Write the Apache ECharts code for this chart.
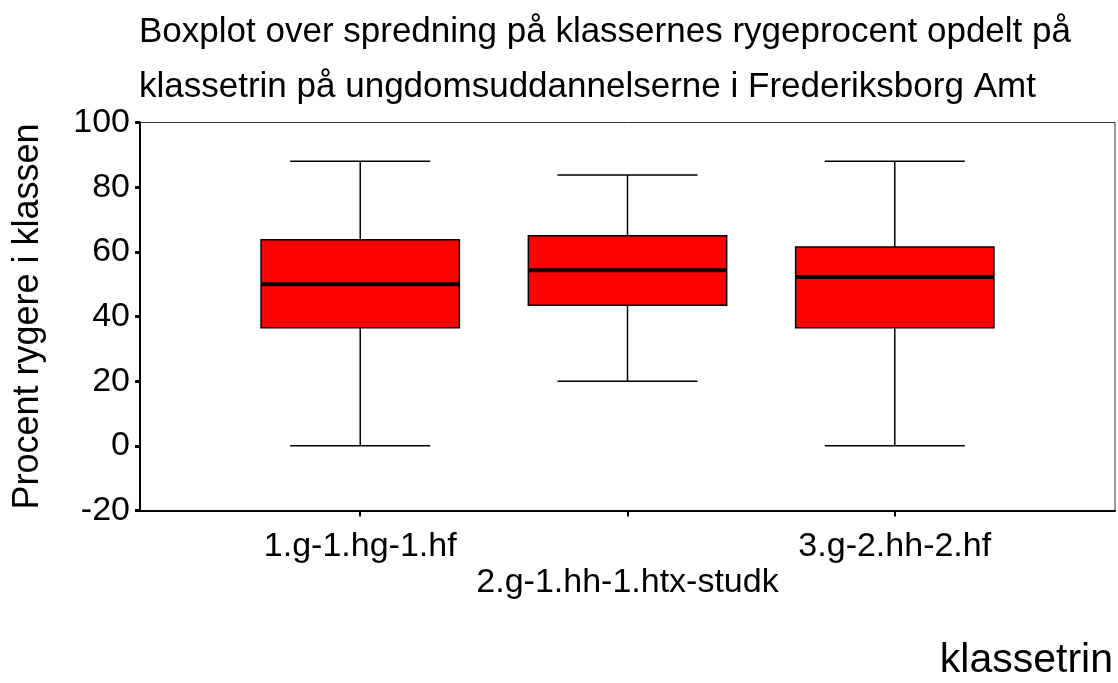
<!DOCTYPE html>
<html>
<head>
<meta charset="utf-8">
<script src="https://cdn.jsdelivr.net/npm/echarts@6/dist/echarts.min.js"></script>
<style>html,body{margin:0;padding:0;background:#fff;}#c{width:1118px;height:683px;}</style>
</head>
<body>
<div id="c"></div>
<script>
var categories = ['1.g-1.hg-1.hf', '2.g-1.hh-1.htx-studk', '3.g-2.hh-2.hf'];
var positions = [1, 2, 3];
var lowerWhisker = [0, 20, 0];
var q1 = [36.5, 43.5, 36.5];
var median = [50, 54.3, 52.2];
var q3 = [63.7, 65, 61.5];
var upperWhisker = [88, 83.8, 88];

var FONT = '"Liberation Sans", Arial, sans-serif';
var boxHalf = 0.371, capHalf = 0.262;

var data = positions.map(function (p, i) {
  return [p, lowerWhisker[i], q1[i], median[i], q3[i], upperWhisker[i]];
});

var chart = echarts.init(document.getElementById('c'));
chart.setOption({
  animation: false,
  backgroundColor: '#fff',
  title: {
    text: 'Boxplot over spredning på klassernes rygeprocent opdelt på\nklassetrin på ungdomsuddannelserne i Frederiksborg Amt',
    left: 134, top: 0,
    textStyle: { fontFamily: FONT, fontSize: 35, fontWeight: 'normal', color: '#000', lineHeight: 55 }
  },
  grid: { left: 140, right: 3, top: 122.5, bottom: 172.5, show: true, borderColor: '#333', borderWidth: 1 },
  xAxis: {
    type: 'value', min: 1 - 0.824, max: 3 + 0.824,
    splitLine: { show: false },
    axisLine: { show: true, onZero: false, lineStyle: { color: '#000', width: 2 } },
    axisTick: { show: true, customValues: positions, length: 6, lineStyle: { color: '#000', width: 2 } },
    axisLabel: {
      customValues: positions,
      fontFamily: FONT, fontSize: 34, color: '#000', margin: 18, lineHeight: 36,
      formatter: function (v) {
        var i = positions.indexOf(Math.round(v));
        if (i < 0) return '';
        return i === 1 ? '\n' + categories[i] : categories[i];
      }
    }
  },
  yAxis: {
    type: 'value', min: -20, max: 100, interval: 20,
    name: 'Procent rygere i klassen', nameLocation: 'middle', nameGap: 94,
    nameTextStyle: { fontFamily: FONT, fontSize: 36, color: '#000' },
    splitLine: { show: false },
    axisLine: { show: true, lineStyle: { color: '#000', width: 2 } },
    axisTick: { show: true, length: 5, lineStyle: { color: '#000', width: 3 } },
    axisLabel: { fontFamily: FONT, fontSize: 34, color: '#000', margin: 10 }
  },
  graphic: [{
    type: 'text', right: 5, top: 640,
    style: { text: 'klassetrin', fontFamily: FONT, fontSize: 41, fill: '#000' }
  }],
  series: [{
    type: 'custom',
    data: data,
    encode: { x: 0, y: [1, 2, 3, 4, 5] },
    renderItem: function (params, api) {
      var x = api.value(0);
      var lo = api.coord([x, api.value(1)]);
      var b1 = api.coord([x, api.value(2)]);
      var md = api.coord([x, api.value(3)]);
      var b3 = api.coord([x, api.value(4)]);
      var hi = api.coord([x, api.value(5)]);
      var bl = api.coord([x - boxHalf, 0])[0];
      var br = api.coord([x + boxHalf, 0])[0];
      var cl = api.coord([x - capHalf, 0])[0];
      var cr = api.coord([x + capHalf, 0])[0];
      var ls = { stroke: '#000', lineWidth: 1.5 };
      return {
        type: 'group',
        children: [
          { type: 'line', shape: { x1: lo[0], y1: lo[1], x2: b1[0], y2: b1[1] }, style: ls },
          { type: 'line', shape: { x1: hi[0], y1: hi[1], x2: b3[0], y2: b3[1] }, style: ls },
          { type: 'line', shape: { x1: cl, y1: lo[1], x2: cr, y2: lo[1] }, style: ls },
          { type: 'line', shape: { x1: cl, y1: hi[1], x2: cr, y2: hi[1] }, style: ls },
          { type: 'rect', shape: { x: bl, y: b3[1], width: br - bl, height: b1[1] - b3[1] },
            style: { fill: '#ff0000', stroke: '#000', lineWidth: 1.5 } },
          { type: 'line', shape: { x1: bl, y1: md[1], x2: br, y2: md[1] }, style: { stroke: '#000', lineWidth: 4 } }
        ]
      };
    }
  }]
});
</script>
</body>
</html>
